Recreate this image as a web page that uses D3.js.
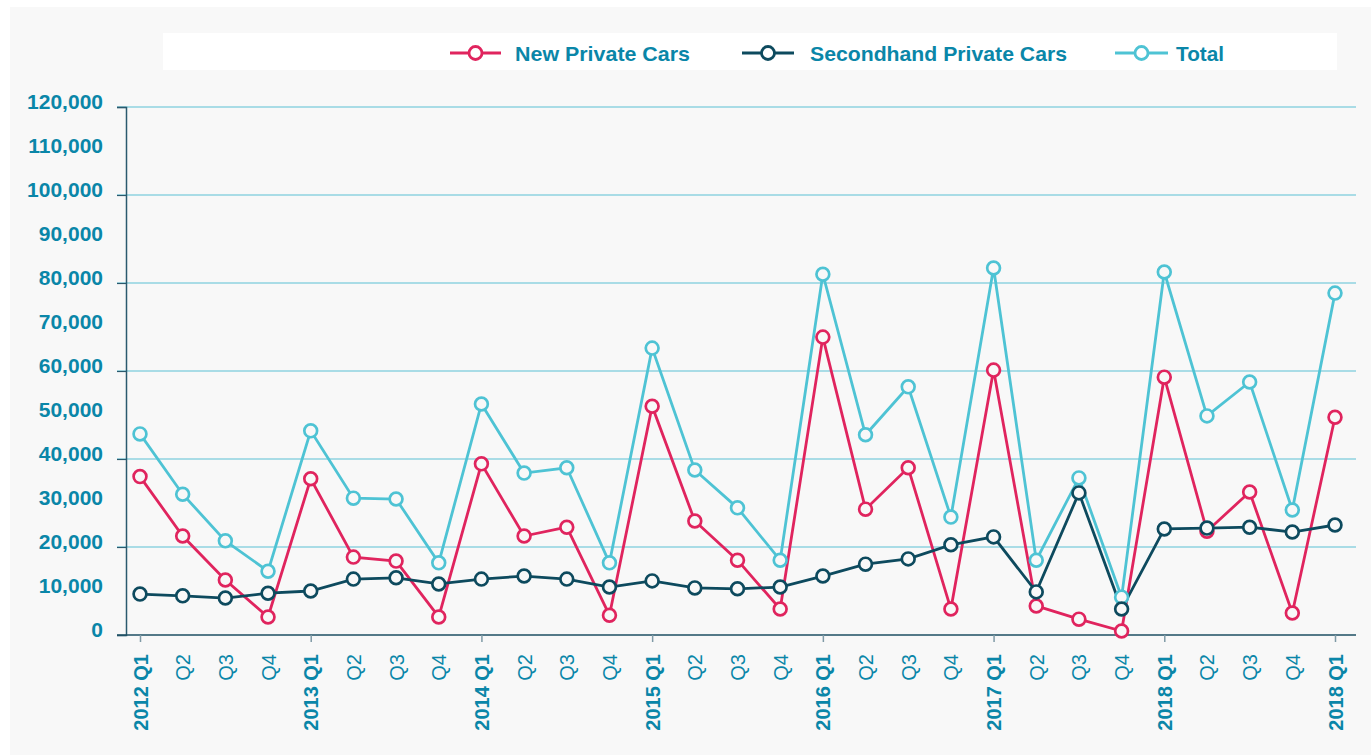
<!DOCTYPE html>
<html><head><meta charset="utf-8">
<script src="https://cdn.jsdelivr.net/npm/d3@7"></script>
<style>
html,body{margin:0;padding:0;background:#fff;}
svg{display:block;font-family:"Liberation Sans",Arial,Helvetica,sans-serif;}
</style></head>
<body>
<svg id="chart" width="1371" height="755"></svg>
<script>
const quarters = ["2012 Q1","Q2","Q3","Q4","2013 Q1","Q2","Q3","Q4","2014 Q1","Q2","Q3","Q4","2015 Q1","Q2","Q3","Q4","2016 Q1","Q2","Q3","Q4","2017 Q1","Q2","Q3","Q4","2018 Q1","Q2","Q3","Q4","2018 Q1"];
const newCars = [36000,22500,12500,4100,35500,17700,16800,4100,38900,22500,24500,4500,52000,25900,17000,5900,67700,28600,38000,5900,60200,6600,3600,900,58600,23600,32500,5000,49500];
const secondCars = [9300,8900,8400,9500,10000,12700,13000,11600,12700,13400,12700,10900,12300,10700,10500,10900,13400,16100,17300,20500,22300,9800,32300,5900,24100,24300,24500,23400,25000];
const totalCars = [45700,32000,21400,14500,46400,31100,30900,16400,52500,36800,38000,16400,65200,37500,28900,17000,82000,45500,56400,26800,83400,17000,35700,8600,82500,49800,57500,28400,77700];
const seriesNames = ["New Private Cars","Secondhand Private Cars","Total"];
const yTicks = [0,10000,20000,30000,40000,50000,60000,70000,80000,90000,100000,110000,120000];
const gridTicks = [20000,40000,60000,80000,100000,120000];

const colors = ["#e0245e","#0d4a5e","#4ec3d4"];
const textColor = "#0a86a8";
const svg = d3.select("#chart");

// backgrounds
svg.append("rect").attr("x",10).attr("y",7).attr("width",1361).attr("height",748).attr("fill","#f8f8f8");
svg.append("rect").attr("x",163).attr("y",33).attr("width",1174).attr("height",37).attr("fill","#ffffff");

const x = d3.scalePoint().domain(d3.range(quarters.length)).range([140,1335]);
const y = d3.scaleLinear().domain([0,120000]).range([635,107]);

// gridlines
svg.append("g").selectAll("line").data(gridTicks).join("line")
  .attr("x1",117).attr("x2",1356).attr("y1",d=>y(d)).attr("y2",d=>y(d))
  .attr("stroke","#5bc0d3").attr("stroke-width",1.2);

// y axis
const yAxis = svg.append("g").attr("transform","translate(126,0)")
  .call(d3.axisLeft(y).tickValues(gridTicks.concat([0])).tickSize(9).tickFormat(""));
yAxis.select(".domain").attr("stroke","#2a5a6e").attr("stroke-width",1.5);
yAxis.selectAll(".tick line").attr("stroke","#2a5a6e").attr("stroke-width",1.2);

svg.append("g").selectAll("text").data(yTicks).join("text")
  .attr("x",103).attr("y",d=>y(d)-6).attr("dy","0.36em")
  .attr("text-anchor","end").attr("fill",textColor)
  .attr("font-size",21).attr("font-weight","bold").text(d=>d3.format(",")(d));

// x axis line
svg.append("line").attr("x1",117).attr("x2",1356).attr("y1",635).attr("y2",635)
  .attr("stroke","#1e4f63").attr("stroke-width",1.5);
const xAxis = svg.append("g").attr("transform","translate(0,635)")
  .call(d3.axisBottom(x).tickValues(d3.range(0,quarters.length,4)).tickSize(7).tickFormat(""));
xAxis.select(".domain").remove();
xAxis.selectAll(".tick line").attr("stroke","#7f9aa6").attr("stroke-width",1.5);

// x labels
svg.append("g").selectAll("text").data(quarters).join("text")
  .attr("transform",(d,i)=>`translate(${x(i)+7.5},654) rotate(-90)`)
  .attr("text-anchor","end").attr("fill",textColor).attr("font-size",20)
  .attr("font-weight",d=>d.includes(" ")?"bold":"normal")
  .text(d=>d);

// lines
const data = [newCars, secondCars, totalCars];
const line = d3.line().x((d,i)=>x(i)).y(d=>y(d));
const order = [2,0,1];
order.forEach(s=>{
  svg.append("path").datum(data[s]).attr("d",line).attr("fill","none")
    .attr("stroke",colors[s]).attr("stroke-width",2.8).attr("stroke-linejoin","miter");
});
order.forEach(s=>{
  svg.append("g").selectAll("circle").data(data[s]).join("circle")
    .attr("cx",(d,i)=>x(i)).attr("cy",d=>y(d)).attr("r",6.4)
    .attr("fill","#f8f8f8").attr("stroke",colors[s]).attr("stroke-width",2.7);
});

// legend
const legendLine = [[450,501],[742,794],[1115,1168]];
const legendText = [515,810,1176];
const legendLen = [175,257,48];
const lg = svg.append("g");
seriesNames.forEach((n,i)=>{
  const g = lg.append("g").attr("transform",`translate(0,53)`);
  g.append("line").attr("x1",legendLine[i][0]).attr("x2",legendLine[i][1]).attr("stroke",colors[i]).attr("stroke-width",2.8);
  g.append("circle").attr("cx",(legendLine[i][0]+legendLine[i][1])/2).attr("r",6.5).attr("fill","#fff").attr("stroke",colors[i]).attr("stroke-width",2.8);
  g.append("text").attr("x",legendText[i]).attr("dy","0.36em").attr("fill",textColor)
    .attr("font-size",21).attr("font-weight","bold")
    .attr("textLength",legendLen[i]).attr("lengthAdjust","spacingAndGlyphs").text(n);
});
</script>
</body></html>
